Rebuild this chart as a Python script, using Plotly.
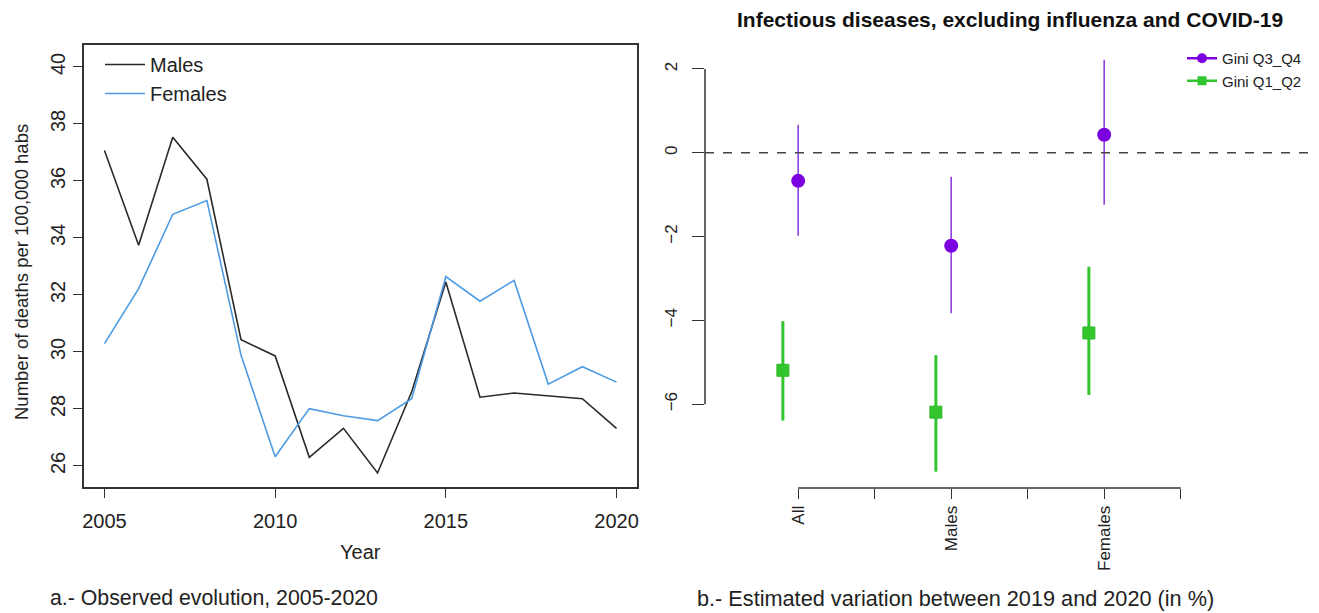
import plotly.graph_objects as go

# ---------------- data ----------------
years = list(range(2005, 2021))
males = [37.07, 33.74, 37.53, 36.06, 30.43, 29.86, 26.30, 27.32, 25.75, 28.6,
         32.45, 28.41, 28.56, 28.45, 28.36, 27.32]
females = [30.29, 32.22, 34.83, 35.31, 29.89, 26.32, 28.01, 27.76, 27.59, 28.36,
           32.64, 31.78, 32.51, 28.87, 29.48, 28.94]

categories = ["All", "Males", "Females"]
q34_est = [-0.67, -2.22, 0.43]
q34_lo = [-1.98, -3.83, -1.24]
q34_hi = [0.67, -0.57, 2.22]
q12_est = [-5.19, -6.19, -4.30]
q12_lo = [-6.39, -7.61, -5.78]
q12_hi = [-4.02, -4.83, -2.72]

left_yticks = [26, 28, 30, 32, 34, 36, 38, 40]
left_xticks = [2005, 2010, 2015, 2020]
right_yticks = [-6, -4, -2, 0, 2]

# ---------------- geometry ----------------
OFF = 8  # default page body margin
W, H = 1319 - OFF, 613 - OFF
FONT = "Liberation Sans, Arial, sans-serif"
AX = "#333333"
TXT = "#222222"
PURPLE = "#7B00E0"
PURPLE_LINE = "#9040E0"
GREEN = "#33C52E"

def px(x):
    return (x - OFF) / W

def py(y):
    return 1 - (y - OFF) / H

pos = [i + 1 for i in range(len(categories))]
pos_green = [p - 0.1 for p in pos]

fig = go.Figure()

fig.add_trace(go.Scatter(x=years, y=males, mode="lines", name="Males",
                         line=dict(color="#2a2a2a", width=1.6),
                         xaxis="x", yaxis="y", legend="legend"))
fig.add_trace(go.Scatter(x=years, y=females, mode="lines", name="Females",
                         line=dict(color="#4C9BE3", width=1.6),
                         xaxis="x", yaxis="y", legend="legend"))

fig.add_trace(go.Scatter(
    x=pos, y=q34_est, mode="markers", showlegend=False,
    marker=dict(symbol="circle", size=14, color=PURPLE),
    error_y=dict(type="data", symmetric=False,
                 array=[h - e for h, e in zip(q34_hi, q34_est)],
                 arrayminus=[e - l for e, l in zip(q34_est, q34_lo)],
                 color=PURPLE_LINE, thickness=1.6, width=0),
    xaxis="x2", yaxis="y2"))
fig.add_trace(go.Scatter(
    x=pos_green, y=q12_est, mode="markers", showlegend=False,
    marker=dict(symbol="square", size=12, color=GREEN,
                line=dict(color="#2FB82A", width=1)),
    error_y=dict(type="data", symmetric=False,
                 array=[h - e for h, e in zip(q12_hi, q12_est)],
                 arrayminus=[e - l for e, l in zip(q12_est, q12_lo)],
                 color=GREEN, thickness=3, width=0),
    xaxis="x2", yaxis="y2"))

fig.add_trace(go.Scatter(x=[None], y=[None], mode="lines+markers", name="Gini Q3_Q4",
                         line=dict(color=PURPLE, width=2.5),
                         marker=dict(symbol="circle", size=10, color=PURPLE),
                         xaxis="x2", yaxis="y2", legend="legend2"))
fig.add_trace(go.Scatter(x=[None], y=[None], mode="lines+markers", name="Gini Q1_Q2",
                         line=dict(color=GREEN, width=2.5),
                         marker=dict(symbol="square", size=9, color=GREEN),
                         xaxis="x2", yaxis="y2", legend="legend2"))

lx0, lx1, ly_top, ly_bot = 84, 637, 45, 487
rx0, ry_top, ry_bot = 705, 43.4, 488

fig.update_layout(
    width=W, height=H,
    margin=dict(l=0, r=0, t=0, b=0),
    paper_bgcolor="white", plot_bgcolor="white",
    font=dict(family=FONT, color=TXT),
    xaxis=dict(domain=[px(lx0), px(lx1)], range=[2004.4, 2020.6], automargin=False,
               tickvals=left_xticks, ticks="outside", ticklen=9, tickwidth=1.3,
               tickcolor=AX, showline=True, mirror=True, linecolor=AX, linewidth=1.5,
               showgrid=False, zeroline=False, ticklabelstandoff=6,
               tickfont=dict(size=20, color=TXT)),
    yaxis=dict(domain=[py(ly_bot), py(ly_top)], range=[25.26, 40.77], automargin=False,
               tickvals=left_yticks, ticks="outside", ticklen=9, tickwidth=1.3,
               tickcolor=AX, showline=True, mirror=True, linecolor=AX, linewidth=1.5,
               showgrid=False, zeroline=False, tickangle=-90,
               tickfont=dict(size=20, color=TXT)),
    xaxis2=dict(domain=[px(rx0), 1], range=[0.391, 4.457 - OFF / 151], automargin=False,
                tickvals=[1, 1.5, 2, 2.5, 3, 3.5],
                ticktext=["All", "", "Males", "", "Females", ""],
                tickangle=-90, ticks="outside", ticklen=10, tickwidth=1.3,
                tickcolor=AX, showline=False, showgrid=False, zeroline=False,
                anchor="y2", tickfont=dict(size=17, color=TXT)),
    yaxis2=dict(domain=[py(ry_bot), py(ry_top)], range=[-8.0, 2.61], automargin=False,
                tickvals=right_yticks, tickangle=-90, ticks="outside", ticklen=12,
                tickwidth=1.3, tickcolor=AX, showline=False, showgrid=False,
                zeroline=False, anchor="x2", ticklabelstandoff=8,
                tickfont=dict(size=17, color=TXT)),
    legend=dict(x=px(100), y=py(45), xanchor="left", yanchor="top",
                bgcolor="rgba(0,0,0,0)", font=dict(size=20, color=TXT),
                tracegroupgap=0, itemwidth=40),
    legend2=dict(x=px(1182), y=py(42), xanchor="left", yanchor="top",
                 bgcolor="rgba(0,0,0,0)", font=dict(size=15, color=TXT),
                 tracegroupgap=0, itemwidth=30),
    shapes=[
        dict(type="line", xref="paper", yref="y2", x0=px(rx0), x1=1,
             y0=0, y1=0, line=dict(color="#444", width=1.6, dash="dash")),
        dict(type="line", xref="paper", yref="y2", x0=px(rx0), x1=px(rx0),
             y0=min(right_yticks), y1=max(right_yticks),
             line=dict(color=AX, width=1.5)),
        dict(type="line", xref="x2", yref="paper", x0=1, x1=3.5,
             y0=py(ry_bot), y1=py(ry_bot), line=dict(color=AX, width=1.5)),
    ],
    annotations=[
        dict(text="Number of deaths per 100,000 habs", xref="paper", yref="paper",
             x=px(22), y=py(272), xanchor="center", yanchor="middle",
             textangle=-90, showarrow=False, font=dict(size=18.5, color=TXT)),
        dict(text="Year", xref="paper", yref="paper", x=px(360), y=py(552),
             xanchor="center", yanchor="middle",
             showarrow=False, font=dict(size=20, color=TXT)),
        dict(text="a.- Observed evolution, 2005-2020", xref="paper", yref="paper",
             x=px(48), y=py(598), xanchor="left", yanchor="middle", showarrow=False,
             font=dict(size=21.3, color=TXT)),
        dict(text="b.- Estimated variation between 2019 and 2020 (in %)",
             xref="paper", yref="paper", x=px(695), y=py(598), xanchor="left",
             yanchor="middle", showarrow=False, font=dict(size=21.7, color=TXT)),
        dict(text="<b>Infectious diseases, excluding influenza and COVID-19</b>",
             xref="paper", yref="paper", x=px(1010), y=py(19), xanchor="center",
             yanchor="middle", showarrow=False, font=dict(size=21, color="#111")),
    ],
)

fig.write_html("out.html")
